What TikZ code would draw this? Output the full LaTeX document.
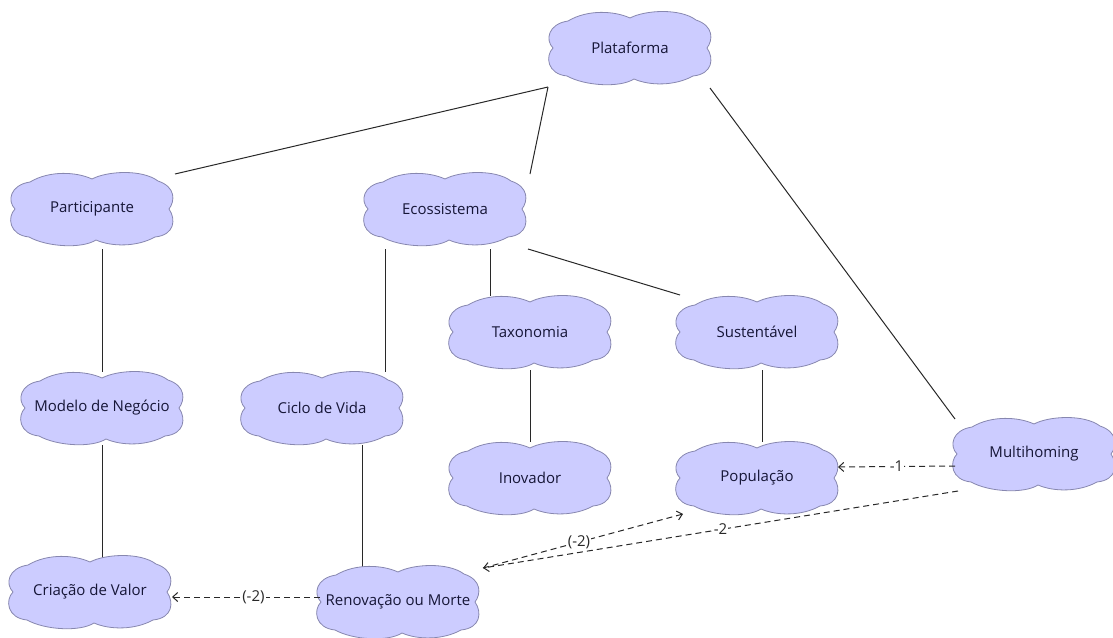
\documentclass[tikz,border=0pt]{standalone}
\usepackage{fontspec}
\setmainfont{Open Sans}
\usetikzlibrary{arrows.meta}
\definecolor{cloudfill}{RGB}{204,204,255}
\definecolor{cloudline}{RGB}{135,135,175}
\definecolor{cloudtext}{RGB}{22,22,55}
\definecolor{linkcol}{RGB}{40,40,40}
\pgfdeclarelayer{links}
\pgfdeclarelayer{clouds}
\pgfsetlayers{links,clouds,main}
\tikzset{
  % puffy outline drawn behind each concept label
  blob/.pic={
    \path[fill=cloudfill, draw=cloudline, line width=0.8pt]
      (-77,0)
      .. controls (-85,-8) and (-82,-24) .. (-62,-27)
      .. controls (-42,-39) and (-15,-37) .. (0,-30)
      .. controls (15,-38) and (50,-40) .. (66,-28)
      .. controls (84,-22) and (83,-8) .. (77,0)
      .. controls (84,10) and (83,26) .. (63,28)
      .. controls (45,38) and (20,38) .. (4,31)
      .. controls (-10,40) and (-45,38) .. (-63,28)
      .. controls (-83,26) and (-85,8) .. (-77,0) -- cycle;
  },
  concept/.style={inner sep=2pt, text=cloudtext,
    font=\fontsize{15}{17}\selectfont},
  link/.style={draw=linkcol, line width=1pt},
  influence/.style={draw=linkcol, line width=1pt, dash pattern=on 6pt off 4pt,
    -{Straight Barb[length=5pt,width=9pt]}},
  weight/.style={fill=white, inner sep=1pt, text=linkcol,
    font=\fontsize{15}{17}\selectfont}
}
\begin{document}
\begin{tikzpicture}[x=1pt,y=-1pt]
\useasboundingbox (0,0) rectangle (1113,637);

% cloud outlines
\begin{pgfonlayer}{clouds}
\foreach \cx/\cy in {630/48, 92/209, 445/209, 530/332, 757/332, 102/408,
                     322/408, 530/478, 757/478, 1034/454, 90/592, 398/602}
  \pic at (\cx,\cy) {blob};
\end{pgfonlayer}

% concept labels
\node[concept] (plat) at (630,48)  {Plataforma};
\node[concept] (part) at (92,209)  {Participante};
\node[concept] (eco)  at (445,209) {Ecossistema};
\node[concept] (tax)  at (530,332) {Taxonomia};
\node[concept] (sus)  at (757,332) {Sustentável};
\node[concept] (mod)  at (102,408) {Modelo de Negócio};
\node[concept] (cic)  at (322,408) {Ciclo de Vida};
\node[concept] (ino)  at (530,478) {Inovador};
\node[concept] (pop)  at (757,478) {População};
\node[concept] (mult) at (1034,454) {Multihoming};
\node[concept] (cria) at (90,592)  {Criação de Valor};
\node[concept] (ren)  at (398,602) {Renovação ou Morte};

% hierarchy
\begin{pgfonlayer}{links}
\draw[link] ([shift={(-82,39)}]plat.center) -- ([shift={(83,-35)}]part.center);
\draw[link] ([shift={(-82,39)}]plat.center) -- ([shift={(85,-35)}]eco.center);
\draw[link] ([shift={(80,40)}]plat.center) -- ([shift={(-79,-35)}]mult.center);
\draw[link] ([shift={(45,40)}]eco.center) -- ([shift={(-40,-36)}]tax.center);
\draw[link] ([shift={(83,40)}]eco.center) -- ([shift={(-77,-37)}]sus.center);
\draw[link] ([shift={(-60,40)}]eco.center) -- ([shift={(63,-36)}]cic.center);
\draw[link] ([shift={(10,40)}]part.center) -- ([shift={(0,-36)}]mod.center);
\draw[link] ([shift={(0,37)}]mod.center) -- ([shift={(12,-24)}]cria.center);
\draw[link] ([shift={(40,37)}]cic.center) -- ([shift={(-36,-34)}]ren.center);
\draw[link] ([shift={(0,38)}]tax.center) -- ([shift={(0,-36)}]ino.center);
\draw[link] ([shift={(5,38)}]sus.center) -- ([shift={(5,-36)}]pop.center);
\end{pgfonlayer}

% weighted influences
\draw[influence] ([shift={(-79,12)}]mult.center) -- node[weight, pos=0.5] {-1} ([shift={(81,-11)}]pop.center);
\draw[influence] ([shift={(-76,37)}]mult.center) -- node[weight, pos=0.5] {-2} ([shift={(85,-34)}]ren.center);
\draw[influence] ([shift={(85,-34)}]ren.center) -- node[weight, pos=0.48] {(-2)} ([shift={(-74,36)}]pop.center);
\draw[influence] ([shift={(-78,-5)}]ren.center) -- node[weight, pos=0.45] {(-2)} ([shift={(82,5)}]cria.center);
\end{tikzpicture}
\end{document}
